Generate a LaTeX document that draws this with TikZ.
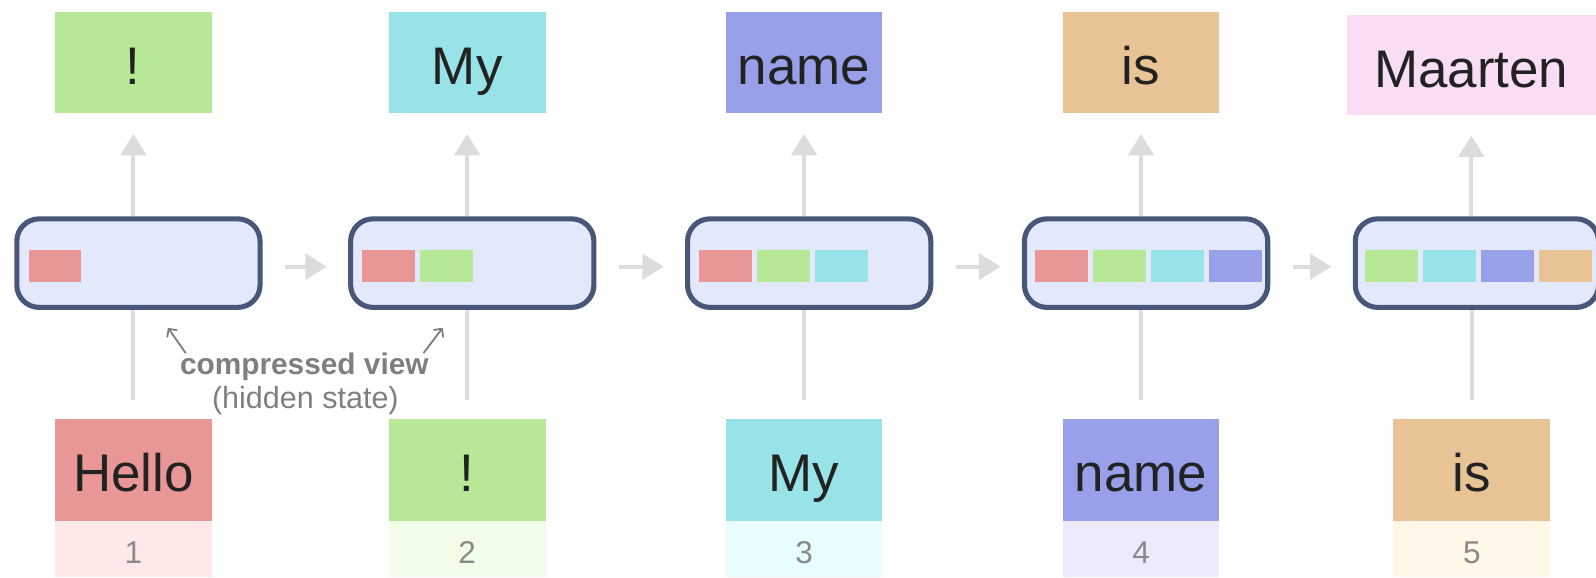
\documentclass[tikz,border=0pt]{standalone}
\usepackage{fontspec}
\setmainfont{Liberation Sans}
\usetikzlibrary{arrows.meta,backgrounds}
\definecolor{cred}{HTML}{E89696}
\definecolor{cgreen}{HTML}{B7E897}
\definecolor{ccyan}{HTML}{98E3E8}
\definecolor{cblue}{HTML}{97A0E8}
\definecolor{corange}{HTML}{E8C396}
\definecolor{cpink}{HTML}{F9DDF5}
\definecolor{lred}{HTML}{FFE8E8}
\definecolor{lgreen}{HTML}{F2FDE9}
\definecolor{lcyan}{HTML}{E8FDFD}
\definecolor{lblue}{HTML}{EDEAFD}
\definecolor{lorange}{HTML}{FFF8E8}
\definecolor{sfill}{HTML}{E3E8FB}
\definecolor{sborder}{HTML}{475679}
\definecolor{agray}{HTML}{DCDCDC}
\definecolor{ink}{HTML}{222222}
\definecolor{numgray}{HTML}{8A8A8A}
\definecolor{notegray}{HTML}{7F7F7F}
\tikzset{
  tok/.style={minimum width=154pt, minimum height=100pt, inner sep=0pt, text height=43pt, text depth=0pt, font=\fontsize{52}{60}\selectfont, text=ink},
  num/.style={minimum width=154pt, minimum height=55pt, inner sep=0pt, text height=29pt, text depth=0pt, font=\fontsize{31}{36}\selectfont, text=numgray},
  statebox/.style={draw=sborder, line width=5pt, fill=sfill, rounded corners=22pt, minimum width=239pt, minimum height=87pt, inner sep=0pt},
  cell/.style={minimum width=52pt, minimum height=31pt, inner sep=0pt},
  flow/.style={draw=agray, line width=4pt, -{Triangle[length=21pt,width=25pt]}},
  link/.style={draw=agray, line width=4pt},
  note/.style={draw=notegray, line width=1.8pt, -{Straight Barb[length=6pt,width=12pt]}},
  notetext/.style={text=notegray, inner sep=0pt, anchor=base}
}
\begin{document}
\begin{tikzpicture}[x=1pt,y=-1pt]
\useasboundingbox (0,0) rectangle (1568,567);
% top tokens
\node[tok, fill=cgreen] (t1) at (131,61.5) {!};
\node[tok, fill=ccyan] (t2) at (459,61.5) {My};
\node[tok, fill=cblue] (t3) at (790,61.5) {name};
\node[tok, fill=corange] (t4) at (1121,61.5) {is};
\node[tok, fill=cpink, minimum width=245pt, minimum height=98pt] (t5) at (1445.5,64) {Maarten};
% bottom tokens
\node[tok, fill=cred] (b1) at (131,461.5) {Hello};
\node[tok, fill=cgreen] (b2) at (459,461.5) {!};
\node[tok, fill=ccyan] (b3) at (790,461.5) {My};
\node[tok, fill=cblue] (b4) at (1121,461.5) {name};
\node[tok, fill=corange] (b5) at (1446,461.5) {is};
% positions
\node[num, fill=lred, anchor=north] (n1) at (b1.south) {1};
\node[num, fill=lgreen, anchor=north] (n2) at (b2.south) {2};
\node[num, fill=lcyan, anchor=north] (n3) at (b3.south) {3};
\node[num, fill=lblue, anchor=north] (n4) at (b4.south) {4};
\node[num, fill=lorange, anchor=north] (n5) at (b5.south) {5};
% hidden states
\node[statebox] (s1) at (136,258.5) {};
\node[statebox] (s2) at (464,258.5) {};
\node[statebox] (s3) at (795,258.5) {};
\node[statebox] (s4) at (1126,258.5) {};
\node[statebox] (s5) at (1451,258.5) {};
% cells
\node[cell, fill=cred] (c11) at (54,261.5) {};
\node[cell, fill=cred] (c21) at (382,261.5) {};
\node[cell, fill=cgreen] (c22) at (439,261.5) {};
\node[cell, fill=cred] (c31) at (713,261.5) {};
\node[cell, fill=cgreen] (c32) at (770,261.5) {};
\node[cell, fill=ccyan] (c33) at (827,261.5) {};
\node[cell, fill=cred] (c41) at (1043,261.5) {};
\node[cell, fill=cgreen] (c42) at (1100,261.5) {};
\node[cell, fill=ccyan] (c43) at (1157,261.5) {};
\node[cell, fill=cblue] (c44) at (1214,261.5) {};
\node[cell, fill=cgreen] (c51) at (1367,261.5) {};
\node[cell, fill=ccyan] (c52) at (1424,261.5) {};
\node[cell, fill=cblue] (c53) at (1481,261.5) {};
\node[cell, fill=corange] (c54) at (1538,261.5) {};
% connectors
\begin{pgfonlayer}{background}
\foreach \i in {1,...,5}{
  \draw[flow, shorten >=20pt] (s\i.north -| t\i.south) -- (t\i.south);
  \draw[link, shorten <=18pt] (b\i.north) -- (s\i.south -| b\i.north);
}
\end{pgfonlayer}
\foreach \i/\j in {1/2,2/3,3/4,4/5}{
  \draw[flow, shorten <=22pt, shorten >=21pt] ([yshift=-3.5pt]s\i.east) -- ([yshift=-3.5pt]s\j.west);
}
% annotation
\node[notetext, font=\fontsize{29.3}{34}\selectfont\bfseries] (cv) at (299,368) {compressed view};
\node[notetext, font=\fontsize{30}{34}\selectfont] (hs) at (300,401) {(hidden state)};
\coordinate (na1) at (182.5,347);
\coordinate (na1t) at (165,322);
\coordinate (na2) at (416,347);
\coordinate (na2t) at (435,322);
\draw[note] (na1) -- (na1t);
\draw[note] (na2) -- (na2t);
\end{tikzpicture}
\end{document}
